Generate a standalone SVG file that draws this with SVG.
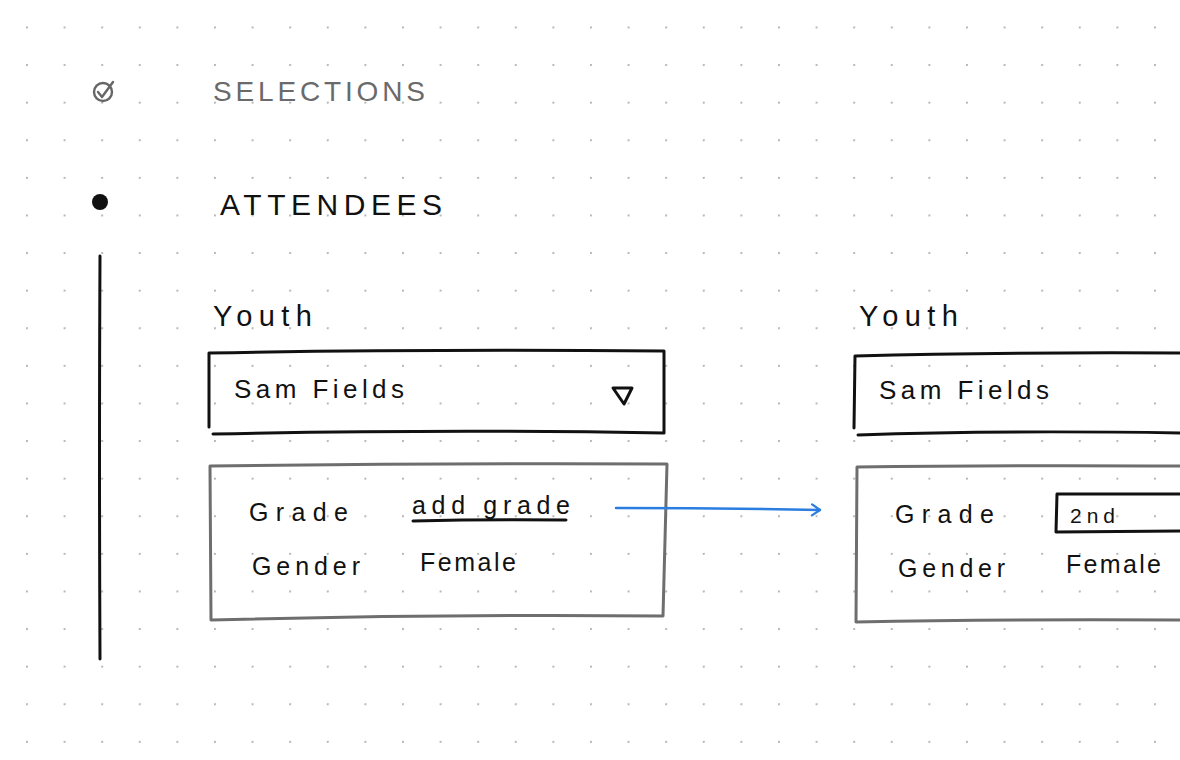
<svg xmlns="http://www.w3.org/2000/svg" width="1180" height="760" viewBox="0 0 1180 760">
<defs>
<pattern id="dots" x="26" y="26.5" width="37.6" height="37.6" patternUnits="userSpaceOnUse">
<circle cx="0.8" cy="0.8" r="1.3" fill="#b4b4b4"/>
</pattern>
<marker id="chev" markerWidth="14" markerHeight="14" refX="11" refY="7" orient="auto" markerUnits="userSpaceOnUse">
<path d="M3,1.5 L11,7 L3,12.5" fill="none" stroke="#2b7de0" stroke-width="2.2" stroke-linecap="round" stroke-linejoin="round"/>
</marker>
<style>
.t{font-family:"Liberation Sans","DejaVu Sans",sans-serif;fill:#111}
.g{fill:#6a6a6a}
.ink{fill:none;stroke:#111;stroke-width:3;stroke-linecap:round;stroke-linejoin:round}
.gray{fill:none;stroke:#6e6e6e;stroke-width:3;stroke-linecap:round;stroke-linejoin:round}
</style>
</defs>
<rect width="1180" height="760" fill="#ffffff"/>
<rect width="1180" height="760" fill="url(#dots)"/>

<g id="selections">
<circle cx="103" cy="92" r="9" fill="none" stroke="#666" stroke-width="2.4"/>
<path d="M98,92 L102,97 L113,82" fill="none" stroke="#666" stroke-width="2.4" stroke-linecap="round" stroke-linejoin="round"/>
<text class="t g" x="213" y="101" font-size="28" textLength="212" lengthAdjust="spacing">SELECTIONS</text>
</g>

<g id="attendees">
<circle cx="100" cy="202" r="8" fill="#111"/>
<text class="t" x="220" y="215" font-size="30" textLength="222" lengthAdjust="spacing">ATTENDEES</text>
<path class="ink" d="M100,256 Q99,450 100,659"/>
</g>

<g id="youth-left">
<text class="t" x="213" y="326" font-size="29" textLength="99" lengthAdjust="spacing">Youth</text>
<path class="ink" d="M209,353 Q420,349 664,351 L664,433 Q450,429 213,434 M209,353 L209,427"/>
<text class="t" x="234" y="398" font-size="26" textLength="170" lengthAdjust="spacing">Sam Fields</text>
<path class="ink" d="M613,388 L632,388 L624,404 Z" stroke-width="2.6"/>
</g>

<g id="details-left">
<path class="gray" d="M210,466 Q440,463 667,464 L663,616 Q440,614 211,620 L210,466"/>
<text class="t" x="249" y="521" font-size="25" textLength="99" lengthAdjust="spacing">Grade</text>
<text class="t" x="412" y="514" font-size="25" textLength="158" lengthAdjust="spacing">add grade</text>
<path class="ink" d="M413,521 Q490,519 566,520" stroke-width="2.6"/>
<text class="t" x="252" y="575" font-size="25" textLength="108" lengthAdjust="spacing">Gender</text>
<text class="t" x="420" y="571" font-size="25" textLength="96" lengthAdjust="spacing">Female</text>
</g>

<g id="connectors">
<path d="M616,508 Q720,508 820,510" fill="none" stroke="#2b7de0" stroke-width="2.4" stroke-linecap="round" marker-end="url(#chev)"/>
</g>

<g id="youth-right">
<text class="t" x="859" y="326" font-size="29" textLength="99" lengthAdjust="spacing">Youth</text>
<path class="ink" d="M855,356 Q1000,352 1182,353 M855,356 L854,428 M858,435 Q1000,430 1182,433"/>
<text class="t" x="879" y="399" font-size="26" textLength="170" lengthAdjust="spacing">Sam Fields</text>
</g>

<g id="details-right">
<path class="gray" d="M1182,466 Q1000,465 857,467 L856,622 Q1000,619 1182,620"/>
<text class="t" x="895" y="523" font-size="25" textLength="99" lengthAdjust="spacing">Grade</text>
<path class="ink" d="M1182,494 L1057,494 L1056,532 L1182,531" stroke-width="2.4"/>
<text class="t" x="1070" y="523" font-size="21" textLength="45" lengthAdjust="spacing">2nd</text>
<text class="t" x="898" y="577" font-size="25" textLength="107" lengthAdjust="spacing">Gender</text>
<text class="t" x="1066" y="573" font-size="25" textLength="95" lengthAdjust="spacing">Female</text>
</g>
</svg>
